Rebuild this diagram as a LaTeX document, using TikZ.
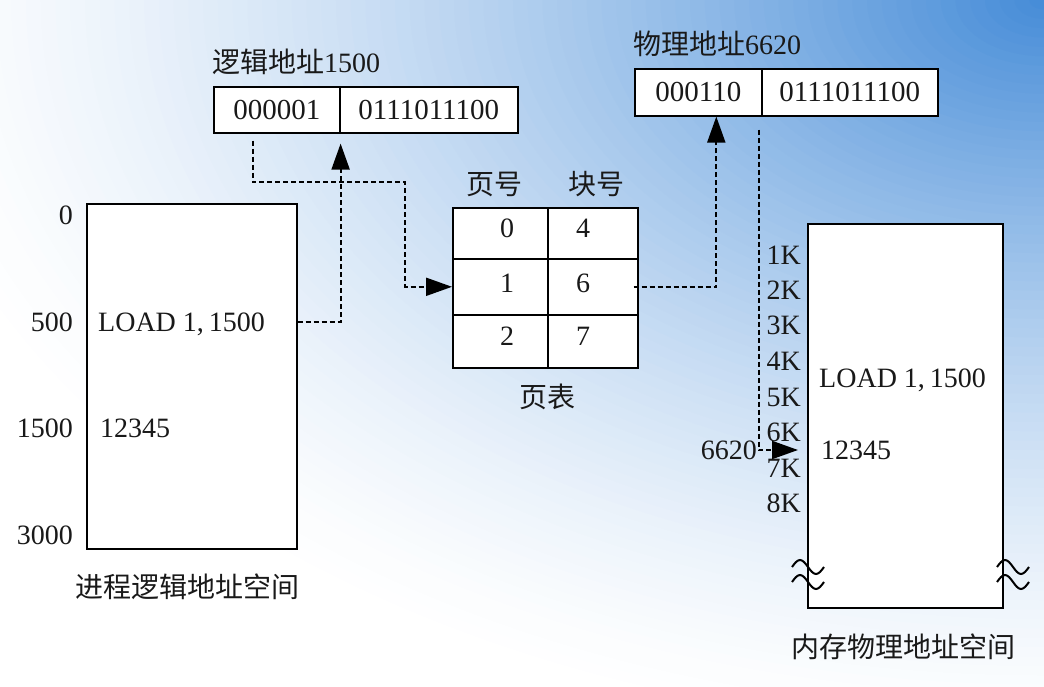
\documentclass[tikz,border=0pt]{standalone}
\usepackage{fontspec}
\setmainfont{Liberation Serif}
\newfontfamily\cjk{Noto Sans CJK SC}
\usetikzlibrary{arrows.meta}
\definecolor{bgA}{RGB}{68,139,215}
\begin{document}
\begin{tikzpicture}[x=1pt,y=-1pt,
  every node/.style={inner sep=0pt, text height=19pt, text depth=0pt, font=\fontsize{28}{30}\selectfont, text=black!90},
  box/.style={draw=black, fill=white, line width=1.6pt, minimum height=#1},
  boxtext/.style={font=\fontsize{29}{31}\selectfont},
  link/.style={line width=2pt, dash pattern=on 5pt off 3pt, -{Triangle[length=26pt,width=18pt]}},
  wave/.style={line width=2pt}
]
\useasboundingbox (0,0) rectangle (1044,687);
\begin{scope}
\clip (0,0) rectangle (1044,687);
\fill[white] (0,0) rectangle (1044,687);
\foreach \i in {1,...,79}{
  \pgfmathsetmacro\myr{1-\i/80}
  \pgfmathsetmacro\myt{100*(\i/80)^1.45}
  \fill[bgA!\myt!white] (1044,0) ellipse [x radius=\myr*1180pt, y radius=\myr*750pt];
}
\end{scope}

% ---- process logical address space
\node[box=345pt, minimum width=210pt, anchor=north west] (lbox) at (86,203) {};
\node[anchor=east] (s0) at (73,215) {0};
\node[anchor=east] (s500) at (73,322) {500};
\node[anchor=east] (s1500) at (73,428) {1500};
\node[anchor=east] (s3000) at (73,535) {3000};
\node[anchor=west] (load1) at (98,322) {LOAD 1,\kern5pt1500};
\node[anchor=west] (val1) at (100,428) {12345};
\node (lcap) at (187,588) {\cjk 进程逻辑地址空间};

% ---- logical address
\node[anchor=west] (ltitle) at (212,63) {{\cjk 逻辑地址}1500};
\node[box=46pt, minimum width=126pt, anchor=north west, boxtext] (la) at (213,86) {000001};
\node[box=46pt, minimum width=178pt, anchor=north west, boxtext] (lb) at (339,86) {0111011100};

% ---- page table
\node (h1) at (494,185) {\cjk 页号};
\node (h2) at (596,185) {\cjk 块号};
\node[box=51pt, minimum width=95pt, anchor=north west] (c00) at (452,207) {};
\node[box=51pt, minimum width=90pt, anchor=north west] (c01) at (547,207) {};
\node[box=56pt, minimum width=95pt, anchor=north west] (c10) at (452,258) {};
\node[box=56pt, minimum width=90pt, anchor=north west] (c11) at (547,258) {};
\node[box=53pt, minimum width=95pt, anchor=north west] (c20) at (452,314) {};
\node[box=53pt, minimum width=90pt, anchor=north west] (c21) at (547,314) {};
\node (t00) at (507,228) {0};
\node (t01) at (583,228) {4};
\node (t10) at (507,283) {1};
\node (t11) at (583,283) {6};
\node (t20) at (507,336) {2};
\node (t21) at (583,336) {7};
\node (ptcap) at (547,398) {\cjk 页表};

% ---- physical address
\node[anchor=west] (ptitle) at (633,45) {{\cjk 物理地址}6620};
\node[box=47pt, minimum width=127pt, anchor=north west, boxtext] (pa) at (634,68) {000110};
\node[box=47pt, minimum width=176pt, anchor=north west, boxtext] (pb) at (761,68) {0111011100};

% ---- memory
\node[box=384pt, minimum width=195pt, anchor=north west] (mem) at (807,223) {};
\node[anchor=east] (k1) at (801,255) {1K};
\node[anchor=east] (k2) at (801,290) {2K};
\node[anchor=east] (k3) at (801,325) {3K};
\node[anchor=east] (k4) at (801,361) {4K};
\node[anchor=east] (k5) at (801,397) {5K};
\node[anchor=east] (k6) at (801,432) {6K};
\node[anchor=east] (k7) at (801,468) {7K};
\node[anchor=east] (k8) at (801,503) {8K};
\node[anchor=west] (load2) at (819,378) {LOAD 1,\kern5pt1500};
\node[anchor=west] (val2) at (821,450) {12345};
\node[anchor=east] (addr) at (757,450) {6620};
\node (mcap) at (903,648) {\cjk 内存物理地址空间};

% ---- break marks
\foreach \x in {792,997}{
  \foreach \y in {567,582}{
    \draw[wave] (\x,\y) sin (\x+8,\y-7) cos (\x+16,\y) sin (\x+24,\y+7) cos (\x+32,\y);
  }
}

% ---- connectors
\coordinate (bend) at (405,182);
\draw[link, shorten >=10pt] (lbox.east |- load1.west) -| (la.south east);
\draw[link, shorten <=7pt] ([xshift=-24pt]la.south) |- (bend) |- (c10.west);
\draw[link] ([xshift=-5pt]c11.east) -| ([xshift=18pt]pa.south);
\draw[link, shorten <=13pt, shorten >=9pt] ([xshift=-4pt]pa.south east) |- (mem.west |- val2.west);
\end{tikzpicture}
\end{document}
